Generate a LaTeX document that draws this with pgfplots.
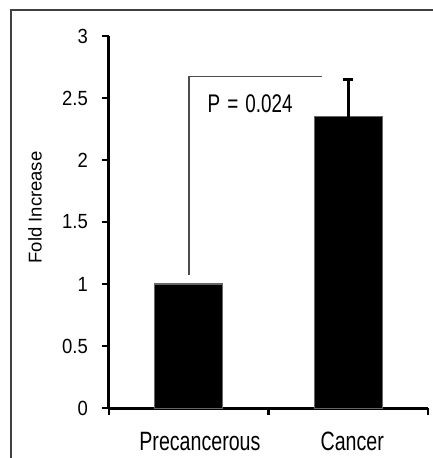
\documentclass[border=0pt]{standalone}
\usepackage{fontspec}
\setmainfont{Liberation Sans}
\newfontfamily\condfont{Liberation Sans}[FakeStretch=0.74]
\newfontfamily\tickfont{Liberation Sans}[FakeStretch=0.9]
\usepackage{pgfplots}
\pgfplotsset{compat=1.18}
\begin{document}
\begin{tikzpicture}
\useasboundingbox (0,0) rectangle (433pt,458pt);
\draw[black!75, line width=1.5pt] (11pt,-5pt) -- (11pt,448pt) -- (440pt,448pt);
\begin{axis}[
  at={(109pt,50pt)}, anchor=south west,
  scale only axis, width=319pt, height=372pt,
  xmin=-0.5, xmax=1.5, ymin=0, ymax=3,
  clip=false,
  axis x line*=bottom, axis y line*=left,
  axis line style={line width=3pt, -},
  ytick={0,0.5,1,1.5,2,2.5,3},
  yticklabels={0,0.5,1,1.5,2,2.5,3},
  yticklabel style={font=\tickfont\fontsize{20.5}{22}\selectfont, anchor=east, inner sep=0pt, xshift=-14pt},
  xtick={-0.5,0.5,1.5}, xticklabels={},
  extra x ticks={0.07,1.025},
  extra x tick labels={Precancerous,Cancer},
  extra x tick style={major tick length=0pt,
    tick label style={font=\condfont\fontsize{26.5}{28}\selectfont, anchor=base, inner sep=0pt, yshift=-42pt}},
  tick align=outside, major tick length=7pt,
  tick style={line width=2.5pt, black},
  ylabel={Fold Increase},
  ylabel style={at={(axis description cs:-0.232,0.539)}, anchor=center, font=\fontsize{18.5}{20}\selectfont},
]
\addplot[ybar, bar width=68pt, bar shift=0pt, fill=black, draw=black!60, line width=1pt]
  coordinates {(0,1)};
\addplot[ybar, bar width=68pt, bar shift=0pt, fill=black, draw=black!60, line width=1pt,
  error bars/.cd, y dir=plus, y explicit,
  error bar style={line width=2.5pt, black},
  error mark options={line width=2.5pt, mark size=5pt, black, rotate=90}]
  coordinates {(1,2.35) +- (0,0.3)};
\addplot[black!70, line width=1.5pt] coordinates {(0,1.07) (0,2.672) (0.837,2.672)};
\node[font=\condfont\fontsize{25.5}{28}\selectfont] at (axis cs:0.385,2.45) {P\hspace{7pt}=\hspace{7pt}0.024};
\end{axis}
\end{tikzpicture}
\end{document}
